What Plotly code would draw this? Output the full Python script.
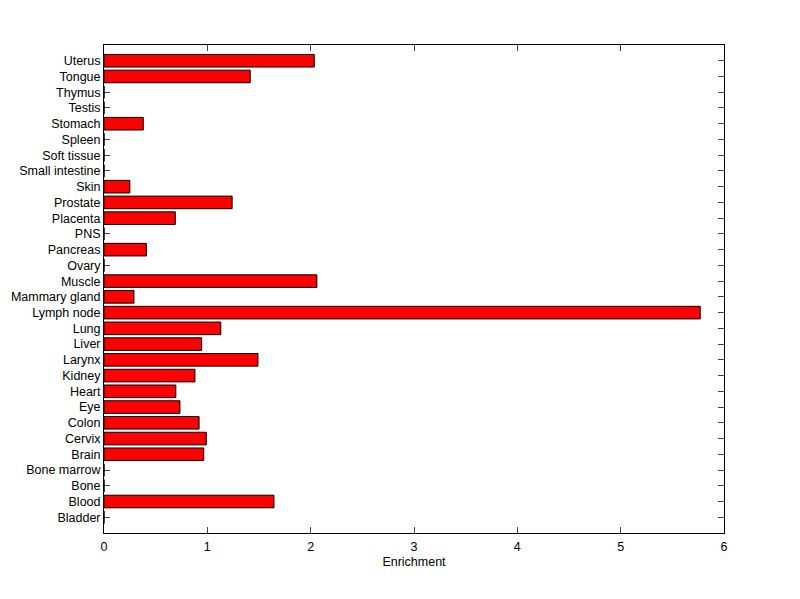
import plotly.graph_objects as go

tissues = ["Bladder", "Blood", "Bone", "Bone marrow", "Brain", "Cervix", "Colon", "Eye",
           "Heart", "Kidney", "Larynx", "Liver", "Lung", "Lymph node", "Mammary gland",
           "Muscle", "Ovary", "Pancreas", "PNS", "Placenta", "Prostate", "Skin",
           "Small intestine", "Soft tissue", "Spleen", "Stomach", "Testis", "Thymus",
           "Tongue", "Uterus"]
enrichment = [0, 1.645, 0, 0, 0.965, 0.99, 0.92, 0.735,
              0.695, 0.88, 1.49, 0.945, 1.13, 5.77, 0.29,
              2.06, 0, 0.41, 0, 0.69, 1.24, 0.25,
              0, 0, 0, 0.38, 0, 0,
              1.415, 2.035]
positions = list(range(1, len(tissues) + 1))
x_ticks = [0, 1, 2, 3, 4, 5, 6]

fig = go.Figure()
fig.add_trace(go.Bar(
    y=positions, x=enrichment, orientation="h", width=0.8,
    marker=dict(color="#ff0000", line=dict(color="black", width=1)),
))

font = dict(family="Liberation Sans, Arial, sans-serif", size=12.5, color="black")
fig.update_layout(
    width=792, height=591,
    margin=dict(l=96, r=76, t=37, b=66),
    paper_bgcolor="white", plot_bgcolor="white",
    showlegend=False, font=font,
    xaxis=dict(range=[0, 6], tickvals=x_ticks, ticks="inside", ticklen=6,
               showline=True, linecolor="black", linewidth=1, mirror="allticks",
               showgrid=False, zeroline=False, automargin=False, layer="below traces",
               ticklabelstandoff=2,
               title=dict(text="Enrichment", font=font, standoff=4)),
    yaxis=dict(range=[0, 31], tickvals=positions, ticktext=tissues,
               ticks="inside", ticklen=6, automargin=False, layer="below traces",
               showline=True, linecolor="black", linewidth=1, mirror="allticks",
               showgrid=False, zeroline=False),
)
fig.write_html("out.html")
